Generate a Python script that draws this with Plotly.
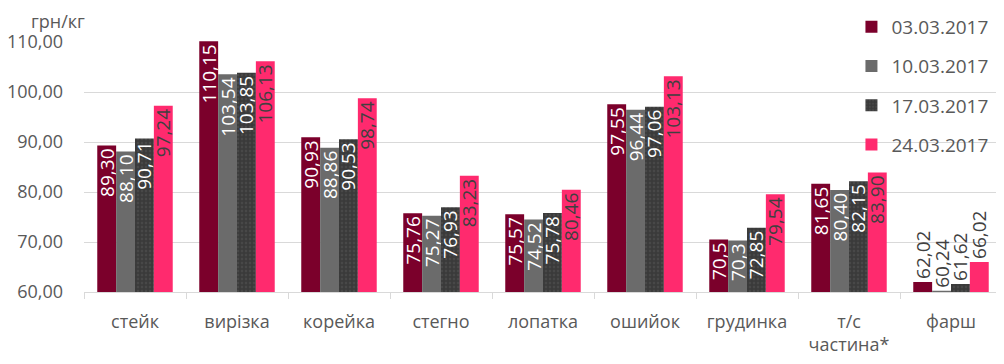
import plotly.graph_objects as go

categories = ["стейк", "вирізка", "корейка", "стегно", "лопатка", "ошийок", "грудинка", "т/с<br>частина*", "фарш"]
series_names = ["03.03.2017", "10.03.2017", "17.03.2017", "24.03.2017"]
v_0303 = [89.30, 110.15, 90.93, 75.76, 75.57, 97.55, 70.5, 81.65, 62.02]
v_1003 = [88.10, 103.54, 88.86, 75.27, 74.52, 96.44, 70.3, 80.40, 60.24]
v_1703 = [90.71, 103.85, 90.53, 76.93, 75.78, 97.06, 72.85, 82.15, 61.62]
v_2403 = [97.24, 106.13, 98.74, 83.23, 80.46, 103.13, 79.54, 83.90, 66.02]
t_0303 = ["89,30", "110,15", "90,93", "75,76", "75,57", "97,55", "70,5", "81,65", "62,02"]
t_1003 = ["88,10", "103,54", "88,86", "75,27", "74,52", "96,44", "70,3", "80,40", "60,24"]
t_1703 = ["90,71", "103,85", "90,53", "76,93", "75,78", "97,06", "72,85", "82,15", "61,62"]
t_2403 = ["97,24", "106,13", "98,74", "83,23", "80,46", "103,13", "79,54", "83,90", "66,02"]
y_ticks = [60, 70, 80, 90, 100, 110]

colors = ["#7B002B", "#6B6B6B", "#404040", "#FF2A6E"]
textcolors = ["white", "white", "white", "#404040"]
values = [v_0303, v_1003, v_1703, v_2403]
texts = [t_0303, t_1003, t_1703, t_2403]

FONT = "Open Sans"
fig = go.Figure()
for i, name in enumerate(series_names):
    pos = ["outside" if c == "фарш" else "inside" for c in categories]
    tcol = ["#404040" if c == "фарш" else textcolors[i] for c in categories]
    marker = dict(color=colors[i], line=dict(width=0))
    if i == 2:
        marker["pattern"] = dict(shape=".", fgcolor="#555555", bgcolor="#3A3A3A", size=4, solidity=0.3)
    fig.add_trace(go.Bar(
        x=categories, y=values[i], name=name, text=texts[i],
        textposition=pos, textangle=-90, insidetextanchor="end",
        constraintext="none", cliponaxis=False,
        textfont=dict(family=FONT, size=19, color=tcol),
        marker=marker, legendgroup=str(i),
    ))

# page body adds an 8px margin, so the figure is 8px smaller and margins compensate
fig.update_layout(
    width=996, height=356,
    margin=dict(l=76, r=2, t=33, b=72, autoexpand=False),
    paper_bgcolor="white", plot_bgcolor="white",
    barmode="group", bargap=0.26, bargroupgap=0,
    font=dict(family=FONT, size=18, color="#595959"),
    separators=", ",
    showlegend=True,
    legend=dict(x=0.836, xanchor="left", yref="container", y=1.0, yanchor="top",
                bgcolor="rgba(0,0,0,0)", tracegroupgap=11.5,
                font=dict(family=FONT, size=19, color="#595959")),
    yaxis=dict(range=[60, 110.2], tickvals=y_ticks, tickformat=".2f",
               showgrid=True, gridcolor="#D9D9D9", gridwidth=1,
               zeroline=False, showline=False, ticks="",
               tickfont=dict(family=FONT, size=18, color="#595959"),
               ticklabelstandoff=20),
    xaxis=dict(showline=True, linecolor="#D9D9D9", linewidth=1,
               ticks="outside", tickson="boundaries", ticklen=6, tickcolor="#D9D9D9",
               ticklabelstandoff=13,
               tickfont=dict(family=FONT, size=18, color="#595959")),
    annotations=[dict(text="грн/кг", xref="paper", yref="paper", x=-0.068, y=1.0,
                      xanchor="left", yanchor="bottom", yshift=6, xshift=7, showarrow=False,
                      font=dict(family=FONT, size=18, color="#595959"))],
)

fig.write_html("out.html")
